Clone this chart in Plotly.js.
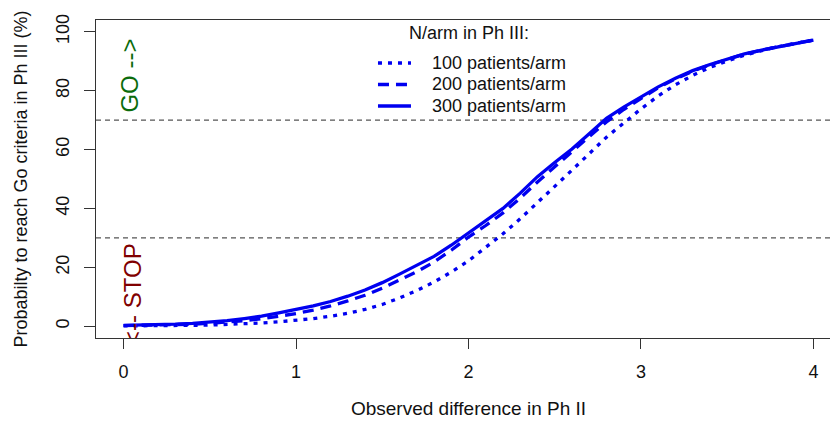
<!DOCTYPE html>
<html>
<head>
<meta charset="utf-8">
<script src="https://cdn.plot.ly/plotly-3.0.1.min.js"></script>
<style>
html, body { margin: 0; padding: 0; overflow: hidden; background: #fff; }
#chart { width: 845px; height: 424px; }
</style>
</head>
<body>
<div id="chart"></div>
<script>
// Observed difference in Ph II
var diffPh2 = [0.0, 0.1, 0.2, 0.3, 0.4, 0.5, 0.6, 0.7, 0.8, 0.9,
               1.0, 1.1, 1.2, 1.3, 1.4, 1.5, 1.6, 1.7, 1.8, 1.9,
               2.0, 2.1, 2.2, 2.3, 2.4, 2.5, 2.6, 2.7, 2.8, 2.9,
               3.0, 3.1, 3.2, 3.3, 3.4, 3.5, 3.6, 3.7, 3.8, 3.9, 4.0];

// Probability to reach Go criteria in Ph III (%)
var prob100 = [0.1, 0.1, 0.1, 0.2, 0.3, 0.4, 0.6, 0.8, 1.1, 1.5,
               2.0, 2.6, 3.4, 4.4, 5.7, 7.4, 9.6, 12.1, 15.0, 18.4,
               22.2, 26.8, 31.4, 36.5, 41.9, 47.5, 53.0, 58.6, 64.2, 69.0,
               73.8, 78.2, 82.0, 85.2, 87.9, 90.1, 92.0, 93.6, 95.0, 96.1, 97.2];
var prob200 = [0.2, 0.3, 0.4, 0.5, 0.7, 1.0, 1.4, 1.9, 2.5, 3.4,
               4.3, 5.5, 6.9, 8.6, 10.5, 12.9, 15.6, 18.5, 21.8, 25.8,
               30.3, 34.2, 38.5, 43.5, 49.0, 54.0, 59.3, 64.4, 69.4, 73.6,
               77.4, 81.0, 84.0, 86.6, 88.8, 90.7, 92.4, 93.8, 95.0, 96.1, 97.2];
var prob300 = [0.3, 0.4, 0.5, 0.7, 1.0, 1.4, 1.9, 2.6, 3.4, 4.5,
               5.6, 6.9, 8.4, 10.2, 12.3, 14.8, 17.7, 20.6, 23.7, 27.5,
               31.6, 35.6, 40.0, 45.2, 50.8, 55.6, 60.2, 65.4, 70.6, 74.4,
               77.9, 81.3, 84.2, 86.8, 88.9, 90.8, 92.5, 93.8, 95.0, 96.1, 97.2];

var seriesNames = ['100 patients/arm', '200 patients/arm', '300 patients/arm'];
var seriesDash = ['4px,6px', '11px,7px', 'solid'];
var legendTitle = 'N/arm in Ph III:';
var thresholds = [30, 70];
var xTicks = [0, 1, 2, 3, 4];
var yTicks = [0, 20, 40, 60, 80, 100];

var FONT = '"Liberation Sans", Arial, sans-serif';
var BLUE = '#0000f0';
var LW = 3.3;

var seriesY = [prob100, prob200, prob300];
var data = seriesY.map(function (ys, i) {
  return { x: diffPh2, y: ys, name: seriesNames[i], mode: 'lines', showlegend: false,
           line: { color: BLUE, width: LW, dash: seriesDash[i] } };
});

var shapes = thresholds.map(function (v) {
  return { type: 'line', xref: 'paper', x0: 0, x1: 1, yref: 'y', y0: v, y1: v,
           line: { color: '#555555', width: 1.2, dash: '5px,4px' }, layer: 'below' };
});

// hand-built legend (placed in paper coordinates inside the plot area)
var legX0 = 0.3785, legX1 = 0.4228, legTextX = 0.4483, legTitleX = 0.5007, legTitleY = 0.959;
var legRows = [0.8648, 0.7972, 0.7296];
var annotations = [
  { x: legTitleX, y: legTitleY, xref: 'paper', yref: 'paper', text: legendTitle, showarrow: false,
    xanchor: 'center', yanchor: 'middle', font: { family: FONT, size: 18, color: '#111' } }
];
seriesNames.forEach(function (nm, i) {
  shapes.push({ type: 'line', xref: 'paper', yref: 'paper', x0: legX0, x1: legX1,
                y0: legRows[i], y1: legRows[i], line: { color: BLUE, width: LW, dash: seriesDash[i] } });
  annotations.push({ x: legTextX, y: legRows[i], xref: 'paper', yref: 'paper', text: nm,
                     showarrow: false, xanchor: 'left', yanchor: 'middle',
                     font: { family: FONT, size: 18, color: '#111' } });
});
annotations.push(
  { x: 0.035, y: 85, xref: 'x', yref: 'y', text: 'GO -->', showarrow: false,
    textangle: -90, font: { family: FONT, size: 24, color: '#0b6b0b' } },
  { x: 0.055, y: 11, xref: 'x', yref: 'y', text: '<-- STOP', showarrow: false,
    textangle: -90, font: { family: FONT, size: 24, color: '#800000' } }
);

var layout = {
  width: 845, height: 424,
  margin: { l: 96, r: 4, t: 20, b: 86 },
  paper_bgcolor: '#ffffff', plot_bgcolor: '#ffffff',
  font: { family: FONT, size: 18, color: '#111' },
  showlegend: false,
  xaxis: {
    range: [-0.16, 4.16], tickvals: xTicks, ticktext: xTicks.map(String),
    showgrid: false, zeroline: false,
    showline: true, mirror: true, linecolor: '#333', linewidth: 1,
    ticks: 'outside', ticklen: 10, tickwidth: 1, tickcolor: '#333',
    ticklabelstandoff: 7,
    tickfont: { family: FONT, size: 18, color: '#111' },
    title: { text: 'Observed difference in Ph II', standoff: 21,
             font: { family: FONT, size: 19, color: '#111' } }
  },
  yaxis: {
    range: [-4, 104], tickvals: yTicks, ticktext: yTicks.map(String),
    showgrid: false, zeroline: false,
    showline: true, mirror: true, linecolor: '#333', linewidth: 1,
    ticks: 'outside', ticklen: 11, tickwidth: 1, tickcolor: '#333',
    tickangle: -90, ticklabelstandoff: 8,
    tickfont: { family: FONT, size: 18, color: '#111' },
    title: { text: 'Probabilty to reach Go criteria in Ph III (%)', standoff: 20,
             font: { family: FONT, size: 18, color: '#111' } }
  },
  shapes: shapes,
  annotations: annotations
};

var gd = document.getElementById('chart');
Plotly.newPlot(gd, data, layout, { staticPlot: true, displayModeBar: false }).then(function () {
  var s = gd._fullLayout._size;
  var anns = gd.querySelectorAll('g.annotation');
  if (!anns.length) return;
  var svg = anns[0].ownerSVGElement;
  var ns = 'http://www.w3.org/2000/svg';
  var defs = document.createElementNS(ns, 'defs');
  var cp = document.createElementNS(ns, 'clipPath');
  cp.setAttribute('id', 'plotAreaClip');
  var r = document.createElementNS(ns, 'rect');
  r.setAttribute('x', s.l); r.setAttribute('y', s.t);
  r.setAttribute('width', s.w); r.setAttribute('height', s.h);
  cp.appendChild(r); defs.appendChild(cp); svg.insertBefore(defs, svg.firstChild);
  anns.forEach(function (g) { g.setAttribute('clip-path', 'url(#plotAreaClip)'); });
});
</script>
</body>
</html>
